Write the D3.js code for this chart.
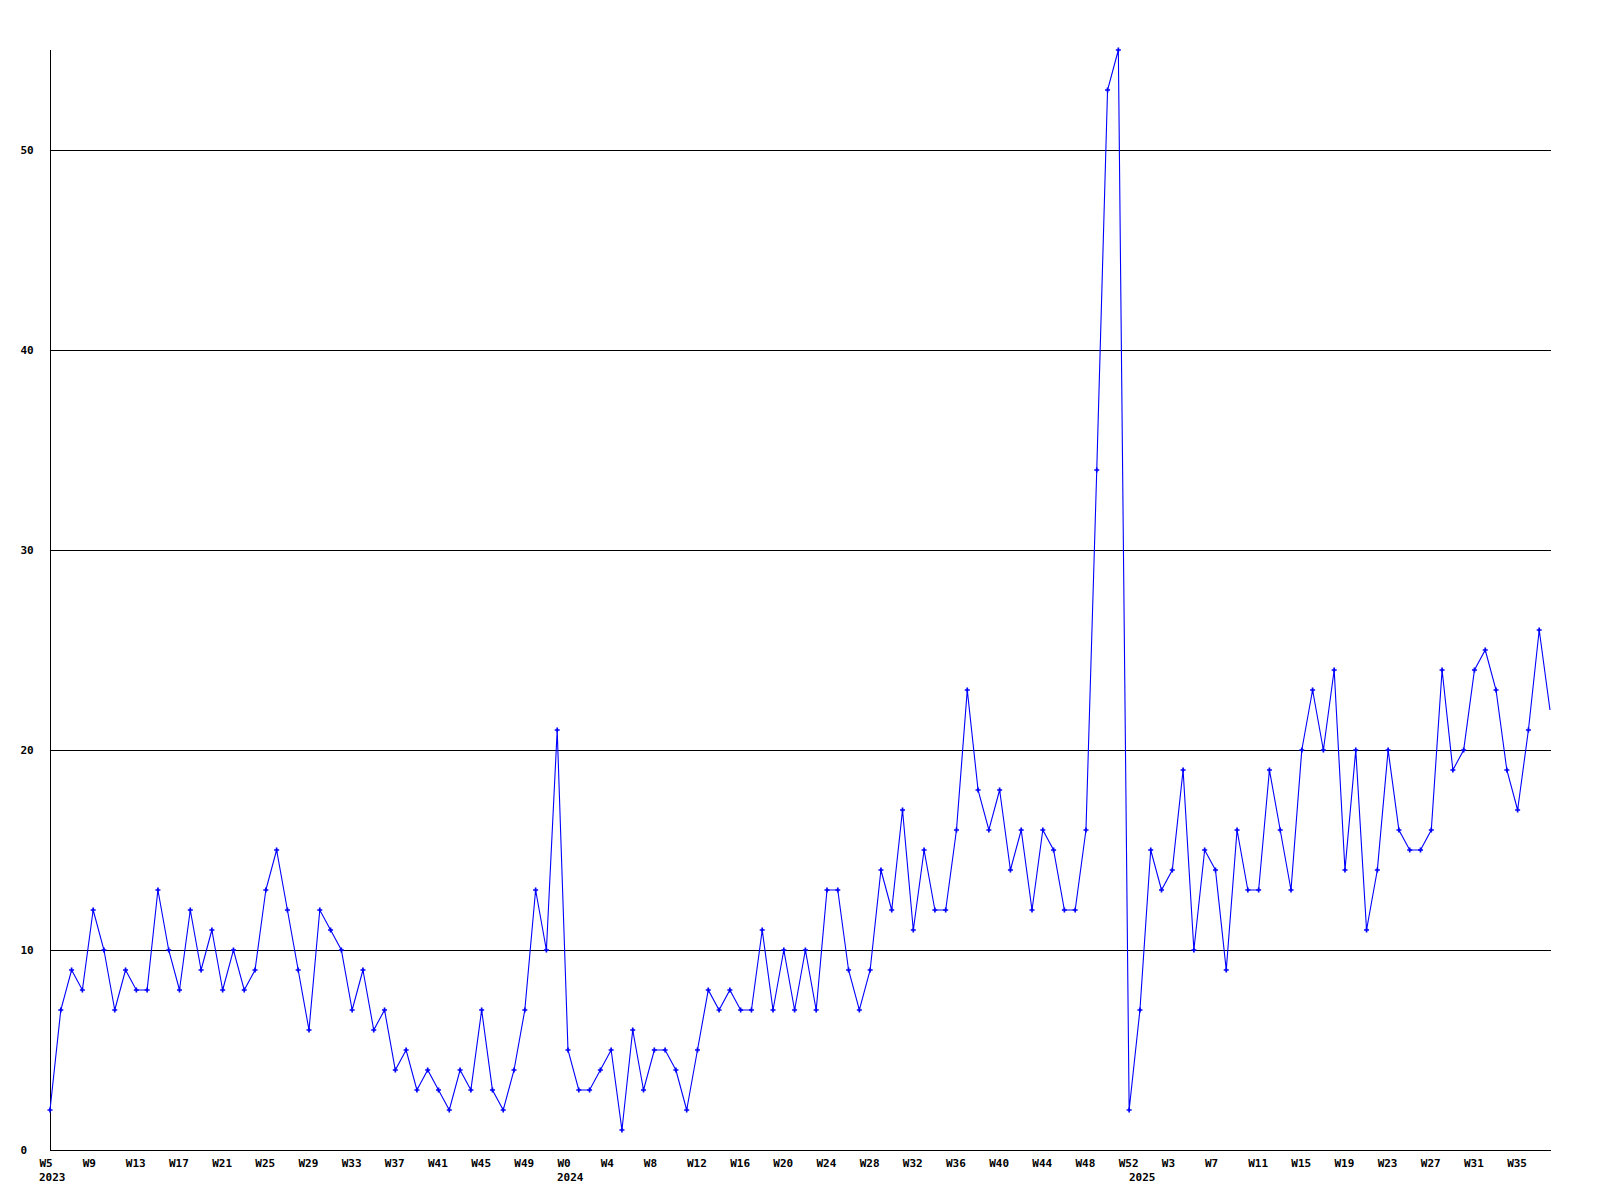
<!DOCTYPE html>
<html>
<head>
<meta charset="utf-8">
<script src="https://cdn.jsdelivr.net/npm/d3@7"></script>
<style>
  html, body { margin: 0; padding: 0; background: #ffffff; }
  svg { display: block; }
  text { font-family: "DejaVu Sans Mono", "Liberation Mono", monospace; font-weight: bold; font-size: 11px; fill: #000; }
</style>
</head>
<body>
<svg id="chart" width="1600" height="1200"></svg>
<script>
// ---- data ----
const years = ["2023", "2024", "2025"];
const weeks2023 = d3.range(5, 53);   // W5 .. W52
const weeks2024 = d3.range(0, 53);   // W0 .. W52
const weeks2025 = d3.range(0, 39);   // W0 .. W38

const values2023 = [2, 7, 9, 8, 12, 10, 7, 9, 8, 8, 13, 10, 8, 12, 9, 11, 8, 10, 8, 9,
  13, 15, 12, 9, 6, 12, 11, 10, 7, 9, 6, 7, 4, 5, 3, 4, 3, 2, 4, 3,
  7, 3, 2, 4, 7, 13, 10, 21];
const values2024 = [5, 3, 3, 4, 5, 1, 6, 3, 5, 5, 4, 2, 5, 8, 7, 8, 7, 7, 11, 7,
  10, 7, 10, 7, 13, 13, 9, 7, 9, 14, 12, 17, 11, 15, 12, 12, 16, 23, 18, 16,
  18, 14, 16, 12, 16, 15, 12, 12, 16, 34, 53, 55, 2];
const values2025 = [7, 15, 13, 14, 19, 10, 15, 14, 9, 16, 13, 13, 19, 16, 13, 20, 23, 20, 24, 14,
  20, 11, 14, 20, 16, 15, 15, 16, 24, 19, 20, 24, 25, 23, 19, 17, 21, 26, 22];

const yTicks = [0, 10, 20, 30, 40, 50];
const yMax = 55;

// ---- build table ----
const weeksByYear = [weeks2023, weeks2024, weeks2025];
const valuesByYear = [values2023, values2024, values2025];
const data = [];
years.forEach((yr, i) => {
  weeksByYear[i].forEach((w, j) => {
    data.push({ key: yr + "-W" + w, year: yr, week: w, value: valuesByYear[i][j], firstOfYear: j === 0 });
  });
});

// ---- layout ----
const svg = d3.select("#chart");
const plotLeft = 50, plotRight = 1550, plotTop = 50, plotBottom = 1150;

const x = d3.scalePoint().domain(data.map(d => d.key)).range([plotLeft, plotRight]);
const y = d3.scaleLinear().domain([0, yMax]).range([plotBottom, plotTop]);

// gridlines
svg.append("g").selectAll("line")
  .data(yTicks.filter(t => t > 0))
  .join("line")
  .attr("x1", plotLeft).attr("x2", plotRight + 1)
  .attr("y1", d => y(d) + 0.5).attr("y2", d => y(d) + 0.5)
  .attr("stroke", "#000").attr("stroke-width", 1)
  .attr("shape-rendering", "crispEdges");

// y axis
const yAxis = d3.axisLeft(y).tickValues(yTicks).tickSize(0).tickFormat(d3.format("d"));
const gy = svg.append("g").attr("transform", `translate(${plotLeft + 0.5},0)`).call(yAxis);
gy.select(".domain").attr("d", `M0,${plotTop}V${plotBottom + 0.5}`).attr("stroke", "#000").attr("shape-rendering", "crispEdges");
gy.selectAll(".tick text")
  .attr("x", 20 - plotLeft)
  .attr("text-anchor", "start")
  .attr("dy", "0.35em")
  .attr("font-family", null).attr("font-size", null);

// x axis
const tickKeys = data.filter((d, i) => i % 4 === 0).map(d => d.key);
const byKey = new Map(data.map(d => [d.key, d]));
const xAxis = d3.axisBottom(x).tickValues(tickKeys).tickSize(0)
  .tickFormat(k => "W" + byKey.get(k).week);
const gx = svg.append("g").attr("transform", `translate(0,${plotBottom + 0.5})`).call(xAxis);
gx.select(".domain").attr("d", `M${plotLeft},0H${plotRight + 1}`).attr("stroke", "#000").attr("shape-rendering", "crispEdges");
gx.selectAll(".tick text")
  .attr("text-anchor", "start")
  .attr("x", -11)
  .attr("y", 13)
  .attr("dy", "0.35em")
  .attr("font-family", null).attr("font-size", null);

// year labels
svg.append("g").selectAll("text")
  .data(data.filter(d => d.firstOfYear))
  .join("text")
  .attr("x", d => x(d.key) - 11)
  .attr("y", plotBottom + 27)
  .attr("dy", "0.35em")
  .text(d => d.year);

// line
const line = d3.line().x(d => x(d.key)).y(d => y(d.value));
svg.append("path")
  .datum(data)
  .attr("d", line)
  .attr("fill", "none")
  .attr("stroke", "#0000ff")
  .attr("stroke-width", 1.1);

// markers (last point has none)
svg.append("g").selectAll("path")
  .data(data.slice(0, -1))
  .join("path")
  .attr("transform", d => `translate(${x(d.key)},${y(d.value)})`)
  .attr("d", d3.symbol(d3.symbolCross, 14))
  .attr("fill", "#0000ff");
</script>
</body>
</html>
